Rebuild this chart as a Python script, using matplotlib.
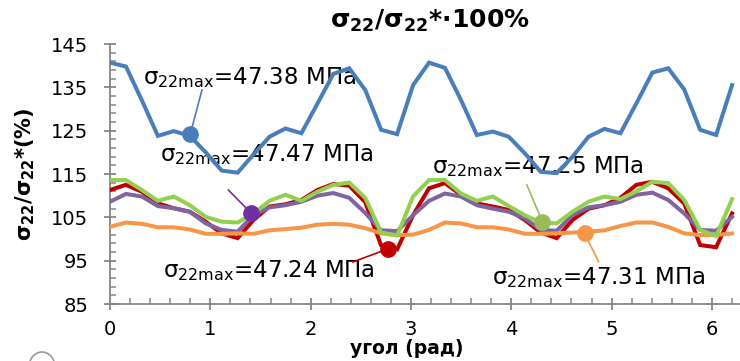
import numpy as np
import matplotlib
matplotlib.use("Agg")
import matplotlib.pyplot as plt
from matplotlib.patches import Arc

plt.rcParams['font.family'] = ['DejaVu Sans']
plt.rcParams['mathtext.fontset'] = 'dejavusans'

# angle (rad) of each computed point
angles = [0.00, 0.159, 0.318, 0.477, 0.636, 0.795, 0.954, 1.113, 1.272, 1.431,
          1.590, 1.749, 1.908, 2.067, 2.226, 2.385, 2.544, 2.703, 2.862, 3.021,
          3.180, 3.339, 3.498, 3.657, 3.816, 3.975, 4.134, 4.293, 4.452, 4.611,
          4.770, 4.929, 5.088, 5.247, 5.406, 5.565, 5.724, 5.883, 6.042, 6.201]

blue = [140.7, 139.8, 132.0, 123.8, 124.9, 123.8, 120.0, 115.8, 115.3, 119.5,
        123.6, 125.5, 124.4, 131.2, 138.1, 139.4, 134.4, 125.2, 124.2, 135.5,
        140.7, 139.5, 132.1, 124.0, 124.8, 123.6, 119.8, 115.5, 115.2, 119.0,
        123.6, 125.4, 124.4, 131.3, 138.4, 139.4, 134.5, 125.2, 124.0, 135.5]

purple = [108.6, 110.4, 109.8, 107.6, 107.1, 106.3, 103.6, 102.1, 101.7, 105.5,
          107.3, 107.8, 108.6, 110.0, 110.6, 109.5, 106.0, 102.0, 101.8, 105.5,
          108.8, 110.5, 109.8, 107.8, 107.0, 106.3, 104.8, 102.1, 101.9, 105.5,
          107.3, 107.8, 108.6, 110.2, 110.7, 109.0, 105.9, 102.1, 101.9, 105.1]

red = [111.3, 112.5, 110.9, 108.2, 107.1, 106.3, 104.0, 101.3, 100.2, 104.4,
       107.5, 108.0, 109.0, 111.3, 112.7, 112.3, 108.5, 98.5, 97.6, 105.5,
       111.7, 112.9, 110.2, 108.2, 107.5, 106.7, 104.4, 101.5, 100.2, 104.4,
       107.0, 107.8, 109.5, 112.5, 113.2, 111.7, 108.2, 98.6, 98.1, 105.9]

green = [113.6, 113.6, 111.3, 108.8, 109.8, 107.8, 105.1, 104.0, 103.8, 105.9,
         108.8, 110.2, 108.8, 110.9, 112.5, 113.0, 109.5, 101.5, 100.8, 109.8,
         113.6, 113.6, 110.5, 108.8, 109.8, 107.6, 105.5, 103.8, 103.6, 106.3,
         108.6, 109.8, 109.2, 111.0, 113.2, 112.9, 109.0, 102.1, 100.7, 109.2]

orange = [102.8, 103.8, 103.5, 102.7, 102.7, 102.2, 101.2, 101.2, 101.3, 101.2,
          102.0, 102.3, 102.6, 103.3, 103.5, 103.3, 102.5, 101.3, 100.9, 101.0,
          102.1, 103.8, 103.6, 102.7, 102.7, 102.2, 101.2, 101.2, 101.3, 101.5,
          101.7, 102.0, 103.0, 103.8, 103.8, 102.8, 101.3, 100.9, 100.9, 101.3]

# max stress labels and the point each one is attached to (blue, purple, red, green, orange)
max_labels = ['47.38', '47.47', '47.24', '47.25', '47.31']
marker_x = [0.80, 1.41, 2.77, 4.31, 4.73]
marker_y = [124.2, 105.9, 97.7, 104.0, 101.3]

series = [
    (blue, '#4A7EBB', '#4A7EBB'),
    (purple, '#8064A2', '#7030A0'),
    (red, '#C00000', '#C00000'),
    (green, '#92D050', '#9BBB59'),
    (orange, '#F79646', '#F79646'),
]
# leader end / label left-centre (data coords)
leader_end = [(0.917, 134.4), (1.18, 111.3), (2.42, 94.7), (4.155, 112.5), (4.87, 94.8)]
label_pos = [(0.33, 137.2), (0.50, 119.4), (0.53, 92.8), (3.21, 116.8), (3.81, 91.2)]

fig = plt.figure(figsize=(7.4, 3.61), dpi=100)
ax = fig.add_axes([110 / 740, 57 / 361, 630 / 740, 260 / 361])

for ys, col, _ in [series[2], series[1], series[4], series[3], series[0]]:
    ax.plot(angles, ys, color=col, lw=2.9, solid_joinstyle='miter', zorder=3)

for i, (ys, col, mcol) in enumerate(series):
    ax.plot([marker_x[i], leader_end[i][0]], [marker_y[i], leader_end[i][1]],
            color=mcol, lw=1.2, zorder=4)
    ax.plot(marker_x[i], marker_y[i], 'o', ms=11, color=mcol, zorder=5)
    ax.text(label_pos[i][0], label_pos[i][1],
            r'$\mathrm{σ_{22max}}$=' + max_labels[i] + ' МПа',
            fontsize=16.5, ha='left', va='center', zorder=2)

ax.set_xlim(0, 6.28)
ax.set_ylim(85, 145)
ax.set_xticks(range(0, 7))
ax.set_xticks(np.arange(0, 6.3, 0.2), minor=True)
ax.set_yticks(range(85, 146, 10))
ax.set_yticks(range(85, 146, 2), minor=True)

for s in ['top', 'right']:
    ax.spines[s].set_visible(False)
for s in ['left', 'bottom']:
    ax.spines[s].set_color('#868686')
    ax.spines[s].set_linewidth(1.3)

ax.tick_params(which='major', direction='inout', length=9, width=1.3, color='#868686',
               labelsize=14, labelcolor='black')
ax.tick_params(which='minor', direction='in', length=4.5, width=1.1, color='#868686')
ax.tick_params(axis='y', which='major', pad=11)
ax.tick_params(axis='x', which='major', pad=7)

fig.text(430 / 740, 1 - 21 / 361, r'$\mathbf{σ_{22}/σ_{22}}$*·100%',
         fontsize=18, fontweight='bold', ha='center', va='center')
fig.text(407 / 740, 1 - 348 / 361, 'угол (рад)', fontsize=13.5, fontweight='bold',
         ha='center', va='center')
fig.text(25 / 740, 1 - 174 / 361, r'$\mathbf{σ_{22}/σ_{22}}$*(%)', fontsize=15,
         fontweight='bold', rotation=90, ha='center', va='center')

fig.add_artist(Arc((42 / 740, 1 - 367 / 361), 26 / 740, 30 / 361, theta1=0, theta2=180,
                   transform=fig.transFigure, color='#9a9a9a', lw=1.2))

fig.savefig('out.png', dpi=100)
